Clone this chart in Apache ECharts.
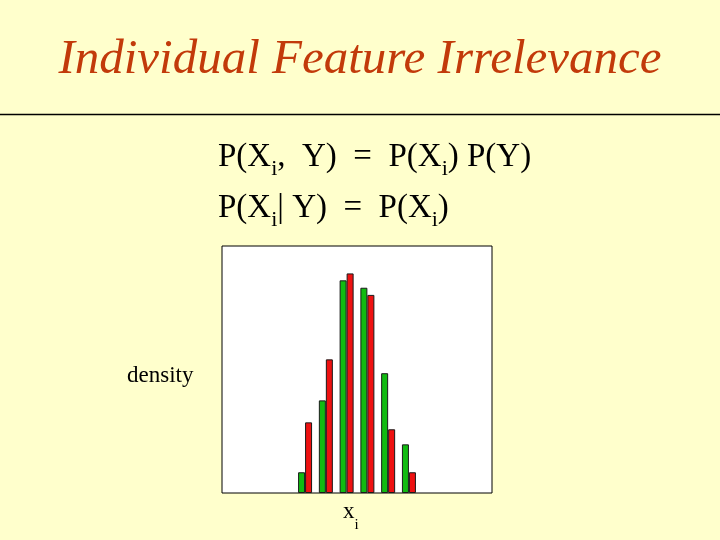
<!DOCTYPE html>
<html><head><meta charset="utf-8">
<script src="https://cdn.jsdelivr.net/npm/echarts@6/dist/echarts.min.js"></script>
<style>html,body{margin:0;padding:0;background:#FFFFCC;}#c{width:720px;height:540px;}</style>
</head><body><div id="c"></div>
<script>
var categories = ['', '', '', '', 'b1', 'b2', 'b3', 'b4', 'b5', 'b6', '', '', '', ''];
var greenValues = [null, null, null, null, 8.4, 37.5, 86.1, 83.1, 48.5, 19.7, null, null, null, null];
var redValues   = [null, null, null, null, 28.6, 54.1, 88.9, 80.2, 25.8, 8.4, null, null, null, null];
var titleText = 'Individual Feature Irrelevance';
var yLabel = 'density';

var chart = echarts.init(document.getElementById('c'), null, {renderer: 'canvas'});
var serif = '"Liberation Serif", "Times New Roman", serif';
var richStyles = {
  m: {fontFamily: serif, fontSize: 33, color: '#000', lineHeight: 40},
  s: {fontFamily: serif, fontSize: 22, color: '#000', verticalAlign: 'bottom', lineHeight: 40, padding: [0, 0, -3, 0]}
};
chart.setOption({
  backgroundColor: '#FFFFCC',
  animation: false,
  grid: {left: 222, top: 246, width: 270, height: 247, show: true, backgroundColor: '#FFFFFF', borderColor: '#000', borderWidth: 1},
  xAxis: {type: 'category', data: categories, boundaryGap: false, axisLine: {show: false}, axisTick: {show: false}, axisLabel: {show: false}, splitLine: {show: false}},
  yAxis: {type: 'value', min: 0, max: 100, axisLine: {show: false}, axisTick: {show: false}, axisLabel: {show: false}, splitLine: {show: false}},
  series: [
    {type: 'bar', data: greenValues, barWidth: 7, barGap: '0%', itemStyle: {color: '#11BB11', borderColor: '#1a1a1a', borderWidth: 1}},
    {type: 'bar', data: redValues, barWidth: 7, barGap: '0%', itemStyle: {color: '#EE1111', borderColor: '#1a1a1a', borderWidth: 1}}
  ],
  graphic: [
    {type: 'text', left: 'center', top: 36, style: {text: titleText, fontFamily: serif, fontStyle: 'italic', fontSize: 49, fill: '#C23A0A'}},
    {type: 'line', shape: {x1: 0, y1: 114.5, x2: 720, y2: 114.5}, style: {stroke: '#000', lineWidth: 1.5}},
    {type: 'text', left: 218, top: 141, style: {
      text: '{m|P(X}{s|i}{m|,  Y)  =  P(X}{s|i}{m|) P(Y)}', rich: richStyles}},
    {type: 'text', left: 218, top: 192, style: {
      text: '{m|P(X}{s|i}{m|| Y)  =  P(X}{s|i}{m|)}', rich: richStyles}},
    {type: 'text', left: 127, top: 364, style: {text: yLabel, fontFamily: serif, fontSize: 23, fill: '#000'}},
    {type: 'text', left: 343, top: 500, style: {text: '{a|x}{b|i}', rich: {
      a: {fontFamily: serif, fontSize: 23, color: '#000', lineHeight: 26},
      b: {fontFamily: serif, fontSize: 15, color: '#000', verticalAlign: 'bottom', lineHeight: 26, padding: [0, 0, -8, 0]}
    }}}
  ]
});
</script></body></html>
